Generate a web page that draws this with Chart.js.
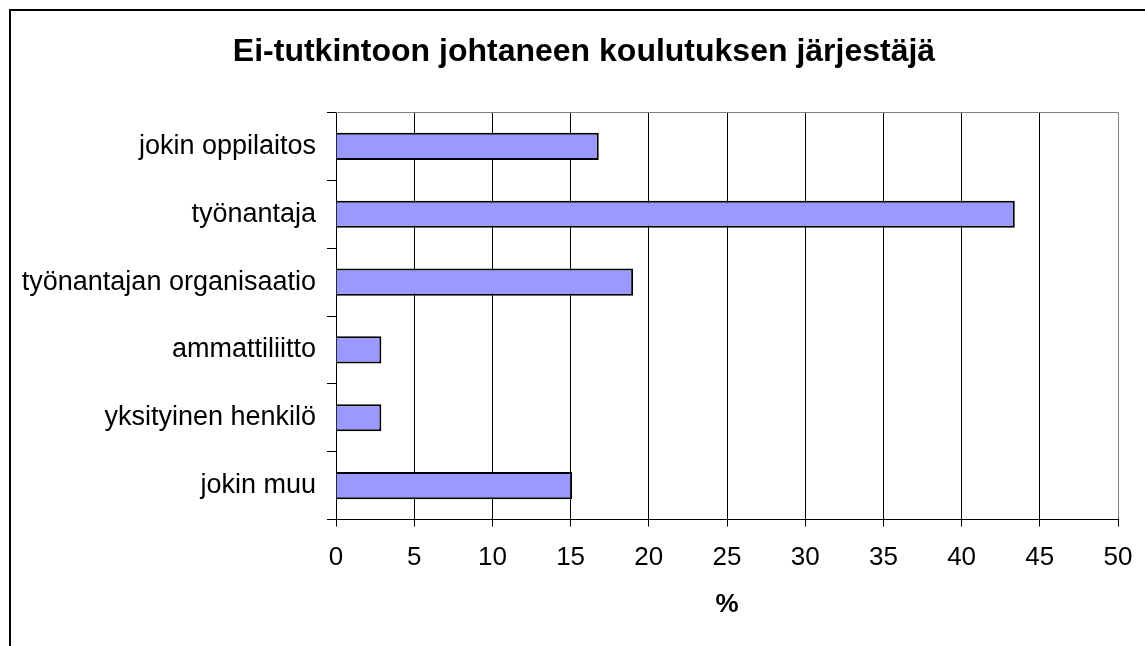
<!DOCTYPE html>
<html lang="fi">
<head>
  <meta charset="UTF-8" />
  <title>Ei-tutkintoon johtaneen koulutuksen järjestäjä</title>
  <script src="https://cdn.jsdelivr.net/npm/chart.js"></script>
  <style>
    html,body{margin:0;padding:0;background:#fff;overflow:hidden}
    #frame{position:absolute;left:9px;top:9px;border-left:2px solid #000;border-top:2px solid #000;width:1146px;height:650px}
    canvas{display:block}
  </style>
</head>
<body>
  <div id="frame"><canvas id="chart" width="1146" height="650"></canvas></div>
  <script>
    const categories = ['jokin oppilaitos', 'työnantaja', 'työnantajan organisaatio', 'ammattiliitto', 'yksityinen henkilö', 'jokin muu'];
    const values = [16.8, 43.4, 19.0, 2.9, 2.9, 15.1];
    const xTicks = [0, 5, 10, 15, 20, 25, 30, 35, 40, 45, 50];

    const FONT = "'Liberation Sans', Arial, sans-serif";

    // gray top edge of plot area (like the Excel plot border)
    const plotBorder = {
      id: 'plotBorder',
      beforeDatasetsDraw(chart) {
        const { ctx, chartArea: a } = chart;
        ctx.save();
        ctx.strokeStyle = '#808080';
        ctx.lineWidth = 1;
        ctx.beginPath();
        ctx.moveTo(a.left, Math.round(a.top) + 0.5);
        ctx.lineTo(a.right, Math.round(a.top) + 0.5);
        ctx.stroke();
        ctx.restore();
      }
    };

    new Chart(document.getElementById('chart'), {
      type: 'bar',
      data: {
        labels: categories,
        datasets: [{
          data: values,
          backgroundColor: '#9999FF',
          borderColor: '#000',
          borderWidth: 2,
          barPercentage: 0.4,
          categoryPercentage: 1
        }]
      },
      options: {
        indexAxis: 'y',
        responsive: false,
        animation: false,
        layout: { padding: { left: 0, right: 0, top: 0, bottom: 37 } },
        plugins: {
          legend: { display: false },
          tooltip: { enabled: false },
          title: {
            display: true,
            text: 'Ei-tutkintoon johtaneen koulutuksen järjestäjä',
            color: '#000',
            font: { family: FONT, size: 32, weight: 'bold' },
            padding: { top: 22, bottom: 41 }
          }
        },
        scales: {
          x: {
            min: 0, max: 50,
            afterBuildTicks: s => { s.ticks = xTicks.map(v => ({ value: v })); },
            ticks: { color: '#000', font: { family: FONT, size: 26 }, padding: 16, maxRotation: 0 },
            grid: {
              color: c => (c.tick && c.tick.value === 50 ? '#808080' : '#000'),
              tickColor: '#000',
              tickLength: 7,
              lineWidth: 1
            },
            border: { color: '#000', width: 1 },
            title: {
              display: true, text: '%', color: '#000',
              font: { family: FONT, size: 26, weight: 'bold' },
              padding: { top: -1, bottom: 4 }
            }
          },
          y: {
            afterFit: s => { s.width = 325; },
            ticks: { color: '#000', font: { family: FONT, size: 27 }, padding: 11 },
            grid: { drawOnChartArea: false, tickColor: '#000', tickLength: 9, offset: true },
            border: { color: '#000', width: 1 }
          },
          // empty spacer on the right so the title stays centred on the frame
          yRight: {
            type: 'category',
            position: 'right',
            afterFit: s => { s.width = 39; },
            ticks: { display: false },
            grid: { display: false },
            border: { display: false }
          }
        }
      },
      plugins: [plotBorder]
    });
  </script>
</body>
</html>
